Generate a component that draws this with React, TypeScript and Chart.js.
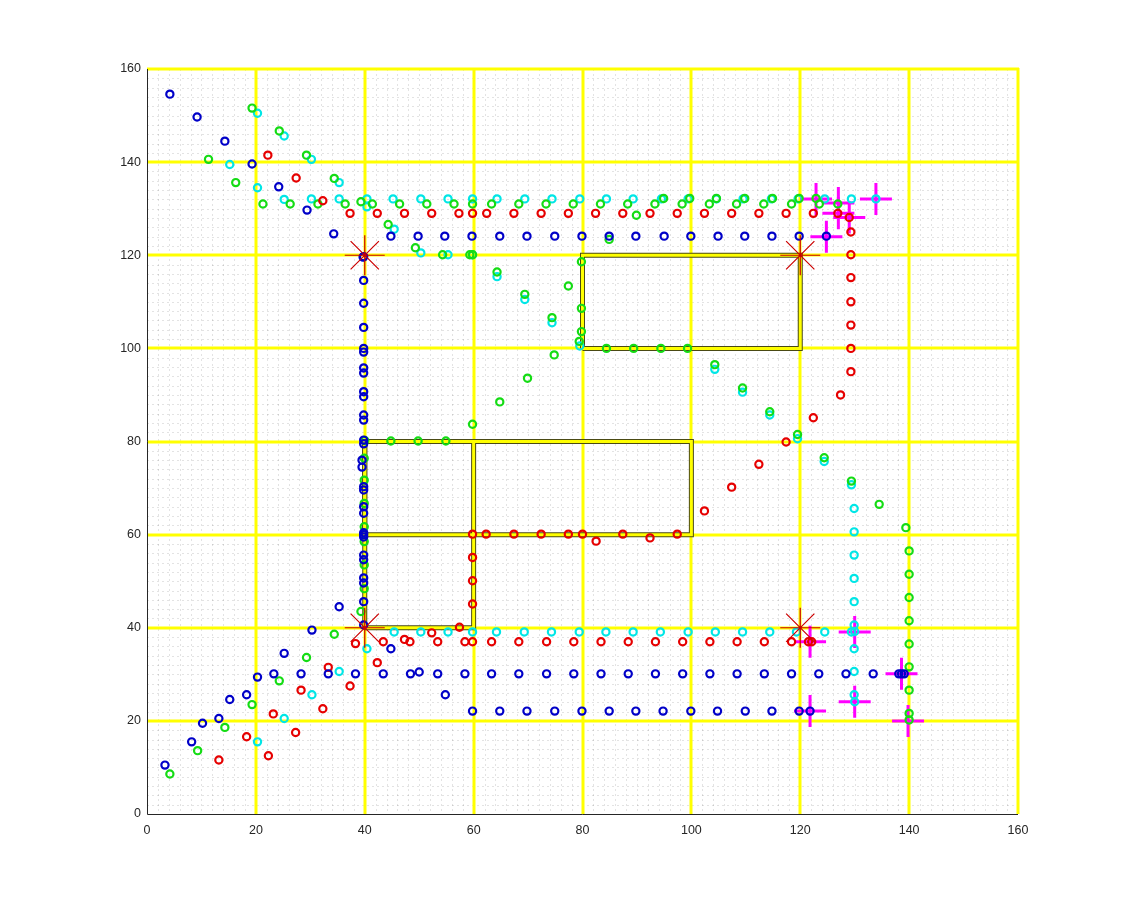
import React, { useEffect, useRef } from "react";
import { Chart, registerables } from "chart.js";

Chart.register(...registerables);

type P = [number, number];

// ---------- axis ticks ----------
const xTicks = [0, 20, 40, 60, 80, 100, 120, 140, 160];
const yTicks = [0, 20, 40, 60, 80, 100, 120, 140, 160];

// ---------- blue series ----------
const blueDiagTop: P[] = [[4.2,154.6],[9.2,149.7],[14.3,144.5],[19.3,139.6],[24.2,134.7],[29.4,129.7],[34.3,124.6],[39.7,119.6]];
const blueRowTop: P[] = [[44.8,124.1],[49.8,124.1],[54.7,124.1],[59.7,124.1],[64.8,124.1],[69.8,124.1],[74.9,124.1],[79.9,124.1],[84.9,124.1],[89.8,124.1],[95.0,124.1],[99.9,124.1],[104.9,124.1],[109.8,124.1],[114.8,124.1],[119.8,124.1],[124.8,124.1]];
const blueColumn: P[] = [[39.8,119.7],[39.8,114.6],[39.8,109.7],[39.8,104.5],[39.8,100.0],[39.8,99.2],[39.8,95.8],[39.8,94.7],[39.8,90.7],[39.8,89.6],[39.8,85.7],[39.8,84.6],[39.8,80.3],[39.8,79.5],[39.5,76.0],[39.5,74.5],[39.8,70.3],[39.8,69.6],[39.8,66.0],[39.8,64.6],[39.8,60.4],[39.8,60.0],[39.8,59.5],[39.8,55.6],[39.8,54.6],[39.8,50.7],[39.8,49.6],[39.8,45.6],[39.8,40.6]];
const blueDiagLow: P[] = [[3.3,10.5],[8.2,15.5],[10.2,19.5],[13.2,20.5],[15.2,24.6],[18.3,25.6],[20.3,29.4],[25.2,34.5],[30.3,39.5],[35.3,44.5],[44.8,35.5],[50.0,30.5],[54.8,25.6]];
const blueRow30: P[] = [[23.3,30.1],[28.3,30.1],[33.3,30.1],[38.3,30.1],[43.4,30.1],[48.4,30.1],[53.4,30.1],[58.4,30.1],[63.3,30.1],[68.3,30.1],[73.4,30.1],[78.4,30.1],[83.4,30.1],[88.4,30.1],[93.4,30.1],[98.4,30.1],[103.4,30.1],[108.4,30.1],[113.4,30.1],[118.4,30.1],[123.4,30.1],[128.4,30.1],[133.4,30.1],[138.1,30.1],[138.6,30.1],[139.1,30.1]];
const blueRow22: P[] = [[59.8,22.1],[64.8,22.1],[69.8,22.1],[74.9,22.1],[79.9,22.1],[84.9,22.1],[89.8,22.1],[94.8,22.1],[99.9,22.1],[104.8,22.1],[109.9,22.1],[114.8,22.1],[119.8,22.1],[121.8,22.1]];

// ---------- red series ----------
const redTop: P[] = [[22.2,141.5],[27.4,136.6],[32.3,131.7]];
const redRow129: P[] = [[37.3,129.0],[42.3,129.0],[47.3,129.0],[52.3,129.0],[57.3,129.0],[59.8,129.0],[62.4,129.0],[67.4,129.0],[72.4,129.0],[77.4,129.0],[82.4,129.0],[87.4,129.0],[92.4,129.0],[97.4,129.0],[102.4,129.0],[107.4,129.0],[112.4,129.0],[117.4,129.0],[122.4,129.0],[126.9,129.0]];
const redLoop: P[] = [[129.0,128.1],[129.3,125.0],[129.3,120.1],[129.3,115.2],[129.3,110.0],[129.3,105.0],[129.3,100.0],[129.3,95.0],[127.4,90.0],[122.4,85.1],[117.4,79.9],[112.4,75.1],[107.4,70.2],[102.4,65.1],[97.4,60.1],[92.4,59.3],[87.4,60.1],[82.5,58.6],[80.0,60.1],[77.4,60.1],[72.4,60.1],[67.4,60.1],[62.3,60.1],[59.8,60.1],[59.8,55.1],[59.8,50.1],[59.8,45.1],[57.4,40.1],[52.3,38.9],[47.3,37.5],[42.3,32.5],[37.3,27.5],[32.3,22.6],[27.3,17.5],[22.3,12.5]];
const redDiagLow: P[] = [[13.2,11.6],[18.3,16.6],[23.2,21.5],[28.3,26.6],[33.3,31.5],[38.3,36.6]];
const redRow37: P[] = [[43.4,37.0],[48.3,37.0],[53.4,37.0],[58.4,37.0],[59.8,37.0],[63.3,37.0],[68.3,37.0],[73.4,37.0],[78.4,37.0],[83.4,37.0],[88.4,37.0],[93.4,37.0],[98.4,37.0],[103.4,37.0],[108.4,37.0],[113.4,37.0],[118.4,37.0],[121.5,37.0],[122.1,37.0]];

// ---------- green series ----------
const greenLoop: P[] = [[19.3,151.6],[24.3,146.7],[29.3,141.5],[34.4,136.5],[39.3,131.5],[44.3,126.6],[49.3,121.6],[54.3,120.1],[59.3,120.1],[59.8,120.1],[64.3,116.4],[69.4,111.6],[74.4,106.6],[79.4,101.5],[84.4,100.0],[89.4,100.0],[94.4,100.0],[99.3,100.0],[104.3,96.5],[109.4,91.5],[114.4,86.4],[119.5,81.5],[124.4,76.5],[129.4,71.5],[134.5,66.5],[139.4,61.5],[140.0,56.5],[140.0,51.5],[140.0,46.5],[140.0,41.5],[140.0,36.5],[140.0,31.6],[140.0,26.6],[140.0,21.6],[140.0,20.2]];
const greenRow131: P[] = [[11.3,140.6],[16.3,135.6],[21.3,131.0],[26.3,131.0],[31.4,131.0],[36.4,131.0],[41.4,131.0],[46.4,131.0],[51.4,131.0],[56.4,131.0],[59.8,131.0],[63.3,131.0],[68.3,131.0],[73.3,131.0],[78.3,131.0],[83.3,131.0],[88.3,131.0],[89.9,128.6],[93.3,131.0],[98.3,131.0],[103.3,131.0],[108.3,131.0],[113.3,131.0],[118.4,131.0],[123.5,131.0],[126.9,131.0]];
const greenRow132: P[] = [[94.9,132.2],[99.7,132.2],[104.6,132.2],[109.8,132.2],[114.9,132.2],[119.8,132.2],[122.9,132.2]];
const greenInner: P[] = [[4.2,8.6],[9.3,13.6],[14.3,18.6],[19.3,23.5],[24.3,28.6],[29.3,33.6],[34.4,38.6],[39.3,43.5],[39.9,48.4],[39.9,53.5],[39.9,58.5],[39.9,61.7],[39.9,66.7],[39.9,71.7],[39.9,76.4],[40.0,80.2],[44.8,80.1],[49.8,80.1],[54.9,80.1],[59.8,83.7],[64.8,88.5],[69.9,93.6],[74.8,98.6],[79.8,103.6],[79.8,108.6],[77.4,113.4],[79.8,118.6],[84.9,123.4]];

// ---------- cyan series ----------
const cyanLoop: P[] = [[20.3,150.5],[25.2,145.6],[30.2,140.6],[35.3,135.6],[40.4,130.4],[45.4,125.6],[50.3,120.5],[55.3,120.1],[59.8,120.1],[64.3,115.4],[69.4,110.5],[74.4,105.5],[79.5,100.5],[104.3,95.5],[109.4,90.6],[114.4,85.7],[119.5,80.6],[124.4,75.7],[129.4,70.7],[129.9,65.6],[129.9,60.6],[129.9,55.6],[129.9,50.6],[129.9,45.6],[129.9,40.6],[130.0,39.2],[129.9,35.5],[129.9,30.6],[129.9,25.6],[130.0,24.1]];
const cyanRow132: P[] = [[15.2,139.5],[20.3,134.5],[25.2,132.0],[30.2,132.1],[35.3,132.1],[40.4,132.1],[45.2,132.1],[50.3,132.1],[55.3,132.1],[59.8,132.1],[64.3,132.1],[69.4,132.1],[74.4,132.1],[79.5,132.1],[84.4,132.1],[89.3,132.1],[94.5,132.1],[99.4,132.1],[104.6,132.1],[109.5,132.1],[114.7,132.1],[119.6,132.1],[124.5,132.1],[129.4,132.1],[133.9,132.1]];
const cyanLow: P[] = [[20.3,15.5],[25.2,20.5],[30.3,25.6],[35.3,30.6],[40.4,35.5],[45.4,39.1],[50.3,39.1],[55.3,39.1],[59.8,39.1],[64.2,39.1],[69.3,39.1],[74.3,39.1],[79.4,39.1],[84.3,39.1],[89.3,39.1],[94.3,39.1],[99.4,39.1],[104.4,39.1],[109.4,39.1],[114.4,39.1],[119.3,39.1],[124.5,39.1],[129.4,39.1]];

// ---------- special markers ----------
const magentaPlus: P[] = [[122.9,132.1],[127.0,131.2],[133.9,132.1],[127.0,129.0],[129.0,128.1],[124.8,124.0],[121.8,37.0],[130.0,39.1],[138.6,30.1],[121.8,22.1],[130.0,24.1],[139.8,20.0]];
const redStars: P[] = [[40,40],[40,120],[120,120],[120,40]];

// ---------- obstacle outlines ----------
const rectA: P[] = [[40,40],[60,40],[60,80],[40,80],[40,40]];
const rectB: P[] = [[40,60],[100,60],[100,80],[40,80],[40,60]];
const rectC: P[] = [[80,100],[120,100],[120,120],[80,120],[80,100]];

const BLUE = "#0000c8";
const RED = "#e60000";
const GREEN = "#14dc14";
const CYAN = "#00e6e6";

const toXY = (arr: P[]) => arr.map(([x, y]) => ({ x, y }));

const circles = (data: P[], color: string, order: number) => ({
  data: toXY(data),
  pointStyle: "circle" as const,
  pointRadius: 3.6,
  borderWidth: 2.2,
  pointBorderColor: color,
  pointBackgroundColor: "rgba(0,0,0,0)",
  borderColor: color,
  backgroundColor: "rgba(0,0,0,0)",
  showLine: false,
  order,
});

const outline = (data: P[], color: string, width: number, order: number) => ({
  data: toXY(data),
  showLine: true,
  borderColor: color,
  borderWidth: width,
  pointRadius: 0,
  fill: false,
  tension: 0,
  order,
});

const gridPlugin = {
  id: "matlabGrid",
  beforeDatasetsDraw(chart: any) {
    const { ctx, chartArea } = chart;
    const xs = chart.scales.x;
    const ys = chart.scales.y;
    const { left, right, top, bottom } = chartArea;
    ctx.save();
    // minor dotted grid
    ctx.strokeStyle = "rgba(0,0,0,0.11)";
    ctx.lineWidth = 1;
    ctx.setLineDash([2, 3]);
    for (let v = 2; v < 160; v += 2) {
      if (v % 20 === 0) continue;
      const px = Math.round(xs.getPixelForValue(v)) + 0.5;
      ctx.beginPath();
      ctx.moveTo(px, top);
      ctx.lineTo(px, bottom);
      ctx.stroke();
      const py = Math.round(ys.getPixelForValue(v)) + 0.5;
      ctx.beginPath();
      ctx.moveTo(left, py);
      ctx.lineTo(right, py);
      ctx.stroke();
    }
    // major yellow grid
    ctx.setLineDash([]);
    ctx.strokeStyle = "#ffff00";
    ctx.lineWidth = 3;
    for (let v = 20; v <= 160; v += 20) {
      const px = Math.round(xs.getPixelForValue(v));
      ctx.beginPath();
      ctx.moveTo(px, top - 1);
      ctx.lineTo(px, bottom);
      ctx.stroke();
      const py = Math.round(ys.getPixelForValue(v));
      ctx.beginPath();
      ctx.moveTo(left, py);
      ctx.lineTo(right + 1, py);
      ctx.stroke();
    }
    // axes lines
    ctx.strokeStyle = "#262626";
    ctx.lineWidth = 1;
    ctx.beginPath();
    ctx.moveTo(Math.round(left) + 0.5, top);
    ctx.lineTo(Math.round(left) + 0.5, Math.round(bottom) + 0.5);
    ctx.lineTo(right, Math.round(bottom) + 0.5);
    ctx.stroke();
    ctx.restore();
  },
};

export default function App() {
  const ref = useRef<HTMLCanvasElement | null>(null);
  useEffect(() => {
    if (!ref.current) return;
    const chart = new Chart(ref.current, {
      type: "scatter",
      data: {
        datasets: [
          { data: toXY(redStars), pointStyle: "star", pointRadius: 20, borderWidth: 1.2, pointBorderColor: "#cc0000", borderColor: "#cc0000", pointBackgroundColor: "rgba(0,0,0,0)", showLine: false, order: 0 },
          circles(blueDiagTop, BLUE, 1),
          circles(blueRowTop, BLUE, 1),
          circles(blueColumn, BLUE, 1),
          circles(blueDiagLow, BLUE, 1),
          circles(blueRow30, BLUE, 1),
          circles(blueRow22, BLUE, 1),
          circles(redTop, RED, 2),
          circles(redRow129, RED, 2),
          circles(redLoop, RED, 2),
          circles(redDiagLow, RED, 2),
          circles(redRow37, RED, 2),
          circles(greenLoop, GREEN, 3),
          circles(greenRow131, GREEN, 3),
          circles(greenRow132, GREEN, 3),
          circles(greenInner, GREEN, 3),
          circles(cyanLoop, CYAN, 4),
          circles(cyanRow132, CYAN, 4),
          circles(cyanLow, CYAN, 4),
          { data: toXY(magentaPlus), pointStyle: "cross", pointRadius: 16, borderWidth: 3, pointBorderColor: "#ff00ff", borderColor: "#ff00ff", showLine: false, order: 5 },
          outline(rectA, "#ffff00", 3, 6),
          outline(rectB, "#ffff00", 3, 6),
          outline(rectC, "#ffff00", 3, 6),
          outline(rectA, "#4a4a14", 5, 7),
          outline(rectB, "#4a4a14", 5, 7),
          outline(rectC, "#4a4a14", 5, 7),
        ] as any,
      },
      options: {
        animation: false,
        responsive: false,
        events: [],
        layout: { padding: { left: 0, right: 107, top: 69, bottom: 0 } },
        plugins: { legend: { display: false }, tooltip: { enabled: false } },
        scales: {
          x: {
            type: "linear",
            min: 0,
            max: 160,
            afterFit: (s: any) => { s.height = 101; },
            afterBuildTicks: (s: any) => { s.ticks = xTicks.map((v) => ({ value: v })); },
            grid: { display: false, drawTicks: false },
            border: { display: false },
            ticks: { color: "#262626", padding: 9, maxRotation: 0, autoSkip: false, font: { family: "'Liberation Sans', Arial, sans-serif", size: 12.5 } },
          },
          y: {
            type: "linear",
            min: 0,
            max: 160,
            afterFit: (s: any) => { s.width = 147; },
            afterBuildTicks: (s: any) => { s.ticks = yTicks.map((v) => ({ value: v })); },
            grid: { display: false, drawTicks: false },
            border: { display: false },
            ticks: { color: "#262626", padding: 6, autoSkip: false, font: { family: "'Liberation Sans', Arial, sans-serif", size: 12.5 } },
          },
        },
      },
      plugins: [gridPlugin],
    });
    return () => chart.destroy();
  }, []);
  return (
    <div style={{ position: "absolute", left: 0, top: 0, width: 1125, height: 915, background: "#fff" }}>
      <canvas ref={ref} width={1125} height={915} style={{ width: 1125, height: 915 }} />
    </div>
  );
}
